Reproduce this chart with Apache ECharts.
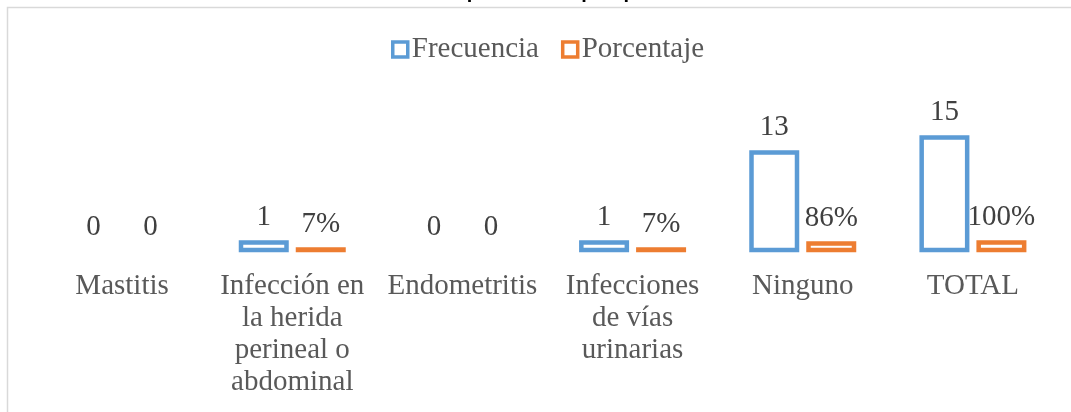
<!DOCTYPE html>
<html>
<head>
<meta charset="utf-8">
<script src="https://cdn.jsdelivr.net/npm/echarts@6/dist/echarts.min.js"></script>
<style>
  html, body { margin: 0; padding: 0; background: #fff; }
  #chart { width: 1071px; height: 412px; }
</style>
</head>
<body>
<div id="chart"></div>
<script>
// Complicaciones postparto: frecuencia y porcentaje por tipo
const titleText = 'Complicaciones postparto';
const categories = [
  'Mastitis',
  'Infección en\nla herida\nperineal o\nabdominal',
  'Endometritis',
  'Infecciones\nde vías\nurinarias',
  'Ninguno',
  'TOTAL'
];
const seriesNames = ['Frecuencia', 'Porcentaje'];
const frecuencia = [0, 1, 0, 1, 13, 15];
const porcentaje = [0, 0.07, 0, 0.07, 0.86, 1.00];

const BLUE = '#5B9BD5';
const ORANGE = '#ED7D31';
const SERIF = '"Liberation Serif", "Times New Roman", serif';
const BORDER = 4.5;      // outline straddles the bar edge, as in office charts
const BAR_W = 45.5;      // bar width measured between outline centres
const BAR_OFFSET = 28.5; // distance of each bar centre from the category centre
const FONT_SIZE = 29;

// Hollow bar drawn through the cartesian scales; the outline is centred on
// the bar edge so even tiny values keep a visible outlined box.
function hollowBars(name, values, color, side, formatter) {
  return {
    name: name,
    type: 'custom',
    itemStyle: { color: '#ffffff', borderColor: color, borderWidth: BORDER },
    encode: { x: 0, y: 1 },
    data: values.map((v, i) => [i, v]),
    renderItem: function (params, api) {
      const idx = api.value(0);
      const val = api.value(1);
      const base = api.coord([idx, 0]);
      const top = api.coord([idx, val]);
      const cx = base[0] + side * BAR_OFFSET;
      const h = base[1] - top[1];
      return {
        type: 'rect',
        shape: { x: cx - BAR_W / 2, y: top[1], width: BAR_W, height: h },
        style: {
          fill: '#ffffff',
          stroke: val === 0 ? 'none' : color,
          lineWidth: val === 0 ? 0 : BORDER
        },
        textContent: {
          style: {
            text: formatter(val),
            fontFamily: SERIF,
            fontSize: FONT_SIZE,
            fill: '#404040'
          }
        },
        textConfig: { position: 'top', distance: 8 }
      };
    }
  };
}

const chart = echarts.init(document.getElementById('chart'), null, { renderer: 'canvas' });
chart.setOption({
  animation: false,
  backgroundColor: '#ffffff',
  graphic: [
    {
      type: 'rect',
      shape: { x: 7.5, y: 7.5, width: 3000, height: 3000 },
      style: { fill: 'none', stroke: '#D9D9D9', lineWidth: 1.5 },
      silent: true
    },
    {
      type: 'text',
      x: 548,
      y: 2,
      style: {
        text: titleText,
        font: 'bold 20px "Liberation Sans", Arial, sans-serif',
        fill: '#000000',
        align: 'center',
        verticalAlign: 'bottom'
      },
      silent: true
    }
  ],
  legend: {
    left: 386,
    top: 30,
    itemWidth: 15,
    itemHeight: 15,
    itemGap: 22,
    icon: 'rect',
    textStyle: { fontFamily: SERIF, fontSize: FONT_SIZE, color: '#595959', padding: [0, 0, 0, -1] },
    data: [
      { name: seriesNames[0], itemStyle: { color: '#fff', borderColor: BLUE, borderWidth: 3.5 } },
      { name: seriesNames[1], itemStyle: { color: '#fff', borderColor: ORANGE, borderWidth: 3.5 } }
    ]
  },
  grid: { left: 37, right: 13, top: 130, bottom: 162, containLabel: false },
  xAxis: {
    type: 'category',
    data: categories,
    axisLine: { show: false },
    axisTick: { show: false },
    axisLabel: {
      interval: 0,
      margin: 20,
      fontFamily: SERIF,
      fontSize: FONT_SIZE,
      lineHeight: 32,
      color: '#595959',
      align: 'center'
    }
  },
  yAxis: { type: 'value', min: 0, max: 16, show: false },
  series: [
    hollowBars(seriesNames[0], frecuencia, BLUE, -1, v => String(v)),
    hollowBars(seriesNames[1], porcentaje, ORANGE, 1,
      v => v === 0 ? '0' : Math.round(v * 100) + '%')
  ]
});
</script>
</body>
</html>
